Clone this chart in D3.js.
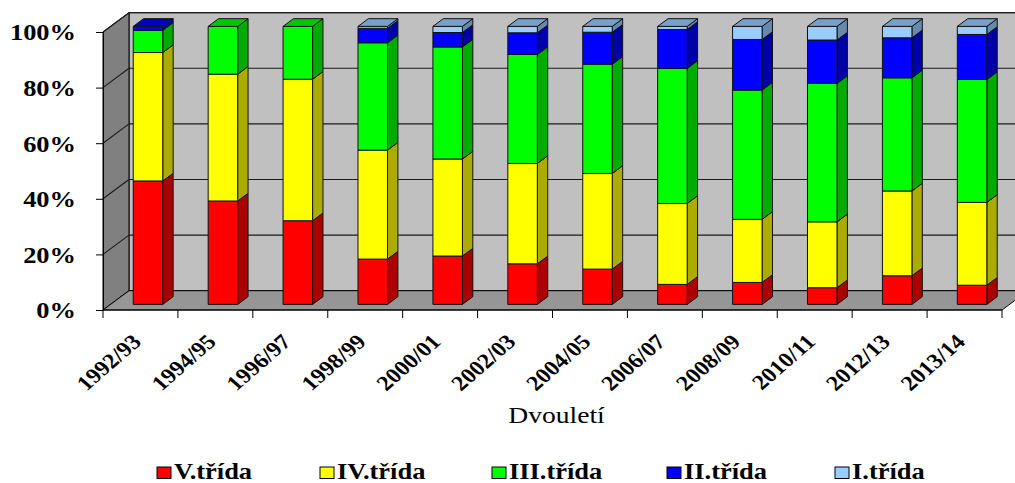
<!DOCTYPE html>
<html>
<head>
<meta charset="utf-8">
<script src="https://cdn.jsdelivr.net/npm/d3@7"></script>
<style>
  html, body { margin: 0; padding: 0; background: #fff; }
  svg { display: block; }
</style>
</head>
<body>
<script>
// Podíl tříd (V. až I.) v jednotlivých dvouletích, v procentech
const categories = ["1992/93", "1994/95", "1996/97", "1998/99", "2000/01", "2002/03",
                    "2004/05", "2006/07", "2008/09", "2010/11", "2012/13", "2013/14"];
const tridaV   = [44.4, 37.2, 30.1, 16.3, 17.4, 14.6, 12.7,  7.2,  7.9,  6.0, 10.3,  6.9];
const tridaIV  = [46.2, 45.6, 50.9, 39.2, 34.9, 36.1, 34.4, 29.1, 22.7, 23.7, 30.5, 29.8];
const tridaIII = [ 8.0, 17.2, 19.0, 38.6, 40.3, 39.2, 39.3, 48.6, 46.5, 49.8, 40.7, 44.2];
const tridaII  = [ 1.4,  0.0,  0.0,  5.2,  5.2,  7.8, 11.5, 14.0, 18.2, 15.6, 14.4, 16.2];
const tridaI   = [ 0.0,  0.0,  0.0,  0.7,  2.2,  2.3,  2.1,  1.1,  4.7,  4.9,  4.1,  2.9];
const seriesNames = ["V.třída", "IV.třída", "III.třída", "II.třída", "I.třída"];
const seriesValues = [tridaV, tridaIV, tridaIII, tridaII, tridaI];
const yTickValues = [0, 20, 40, 60, 80, 100];
const xTitle = "Dvouletí";

const colors = ["#ff0000", "#ffff00", "#00ff00", "#0000ff", "#99ccff"];

const FONT = '"Liberation Serif", serif';
const W = 1015, H = 483;
const STRETCH = 1.15;               // text is drawn slightly wide
const depth = [26, -19.3];          // 3D depth vector of the plot box
const barFront = 0.29, barDepth = 0.40, barWidthRatio = 0.394;
const legendSlots = [157, 320, 492, 667, 835];   // left edge of each legend entry

const shade = (c, k) => { const r = d3.rgb(c); return d3.rgb(r.r * k, r.g * k, r.b * k).formatHex(); };

const svg = d3.select("body").append("svg").attr("width", W).attr("height", H);

const x = d3.scaleBand().domain(categories).range([103, 1002]).padding(0);
const y = d3.scaleLinear().domain([0, 100]).range([310, 32]);

const [dx, dy] = depth;
const xL = x.range()[0], xR = x.range()[1];
const poly = pts => pts.map(p => p.join(",")).join(" ");

// --- walls and floor
const walls = svg.append("g");
walls.append("polygon")   // back wall
  .attr("points", poly([[xL + dx, y(0) + dy], [xL + dx, y(100) + dy], [xR + dx, y(100) + dy], [xR + dx, y(0) + dy]]))
  .attr("fill", "#c0c0c0").attr("stroke", "#000").attr("stroke-width", 1);
walls.append("polygon")   // left wall
  .attr("points", poly([[xL, y(0)], [xL, y(100)], [xL + dx, y(100) + dy], [xL + dx, y(0) + dy]]))
  .attr("fill", "#808080").attr("stroke", "#000").attr("stroke-width", 1);
walls.append("polygon")   // floor
  .attr("points", poly([[xL, y(0)], [xR, y(0)], [xR + dx, y(0) + dy], [xL + dx, y(0) + dy]]))
  .attr("fill", "#969696").attr("stroke", "#000").attr("stroke-width", 1);

// gridlines on back and left walls
const grid = walls.append("g").attr("stroke", "#1a1a1a").attr("stroke-width", 1.1);
yTickValues.filter(v => v > 0).forEach(v => {
  grid.append("line").attr("x1", xL + dx).attr("x2", xR + dx).attr("y1", y(v) + dy).attr("y2", y(v) + dy);
  grid.append("line").attr("x1", xL).attr("x2", xL + dx).attr("y1", y(v)).attr("y2", y(v) + dy);
});

// --- stacked bars
const rows = categories.map((c, i) => {
  const r = { cat: c };
  seriesNames.forEach((s, k) => r[s] = seriesValues[k][i]);
  return r;
});
const stacked = d3.stack().keys(seriesNames)(rows);

const bw = x.bandwidth() * barWidthRatio;
const barsG = svg.append("g").attr("stroke", "#111").attr("stroke-width", 1).attr("stroke-linejoin", "round");

categories.forEach((cat, i) => {
  const g = barsG.append("g");
  const bx = x(cat) + x.bandwidth() / 2 - bw / 2 + barFront * dx;
  const ox = barDepth * dx, oy = barDepth * dy;
  // topmost non-empty segment gets the lid
  let topK = -1;
  stacked.forEach((s, k) => { if (s[i][1] - s[i][0] > 0) topK = k; });
  stacked.forEach((s, k) => {
    const v0 = s[i][0], v1 = s[i][1];
    if (v1 - v0 <= 0) return;
    const yb = y(v0) + barFront * dy, yt = y(v1) + barFront * dy;
    g.append("polygon")
      .attr("points", poly([[bx + bw, yb], [bx + bw, yt], [bx + bw + ox, yt + oy], [bx + bw + ox, yb + oy]]))
      .attr("fill", shade(colors[k], 0.67));
    g.append("rect").attr("x", bx).attr("y", yt).attr("width", bw).attr("height", yb - yt)
      .attr("fill", colors[k]);
    if (k === topK) {
      g.append("polygon")
        .attr("points", poly([[bx, yt], [bx + bw, yt], [bx + bw + ox, yt + oy], [bx + ox, yt + oy]]))
        .attr("fill", shade(colors[k], 0.78));
    }
  });
});

// --- y axis
const yAxis = svg.append("g").attr("transform", `translate(${xL},0)`)
  .call(d3.axisLeft(y).tickValues(yTickValues).tickFormat(d => d + "%").tickSize(7).tickSizeOuter(0));
yAxis.select(".domain").attr("stroke", "#000");
yAxis.selectAll(".tick line").attr("stroke", "#000");
yAxis.selectAll(".tick text")
  .attr("x", -27 / STRETCH).attr("dy", "0.34em")
  .attr("transform", `scale(${STRETCH},1)`)
  .attr("fill", "#000")
  .style("font-family", FONT).style("font-size", "23px").style("font-weight", "bold");

// --- x axis: baseline, ticks at category boundaries, rotated labels
const xAxis = svg.append("g");
xAxis.append("line").attr("x1", xL).attr("x2", xR).attr("y1", y(0)).attr("y2", y(0)).attr("stroke", "#000");
categories.map(c => x(c)).concat([xR]).forEach(px => {
  xAxis.append("line").attr("x1", px).attr("x2", px).attr("y1", y(0)).attr("y2", y(0) + 8).attr("stroke", "#000");
});
categories.forEach(c => {
  xAxis.append("text")
    .attr("transform", `translate(${x(c) + x.bandwidth() / 2 + 2},${y(0) + 33}) scale(${STRETCH},1) rotate(-45)`)
    .attr("text-anchor", "end")
    .style("font-family", FONT).style("font-size", "21px").style("font-weight", "bold")
    .text(c);
});

// axis title
svg.append("text")
  .attr("transform", `translate(${(xL + xR) / 2 + 4},423) scale(${STRETCH},1)`)
  .attr("text-anchor", "middle")
  .style("font-family", FONT).style("font-size", "24px")
  .text(xTitle);

// --- legend
const legend = svg.append("g");
seriesNames.forEach((s, k) => {
  const item = legend.append("g").attr("transform", `translate(${legendSlots[k]},0)`);
  item.append("rect").attr("x", 0).attr("y", 467).attr("width", 14).attr("height", 11.5)
    .attr("fill", colors[k]).attr("stroke", "#000").attr("stroke-width", 1);
  item.append("text")
    .attr("transform", `translate(17,478.5) scale(${STRETCH},1)`)
    .style("font-family", FONT).style("font-size", "23px").style("font-weight", "bold")
    .text(s);
});
</script>
</body>
</html>
